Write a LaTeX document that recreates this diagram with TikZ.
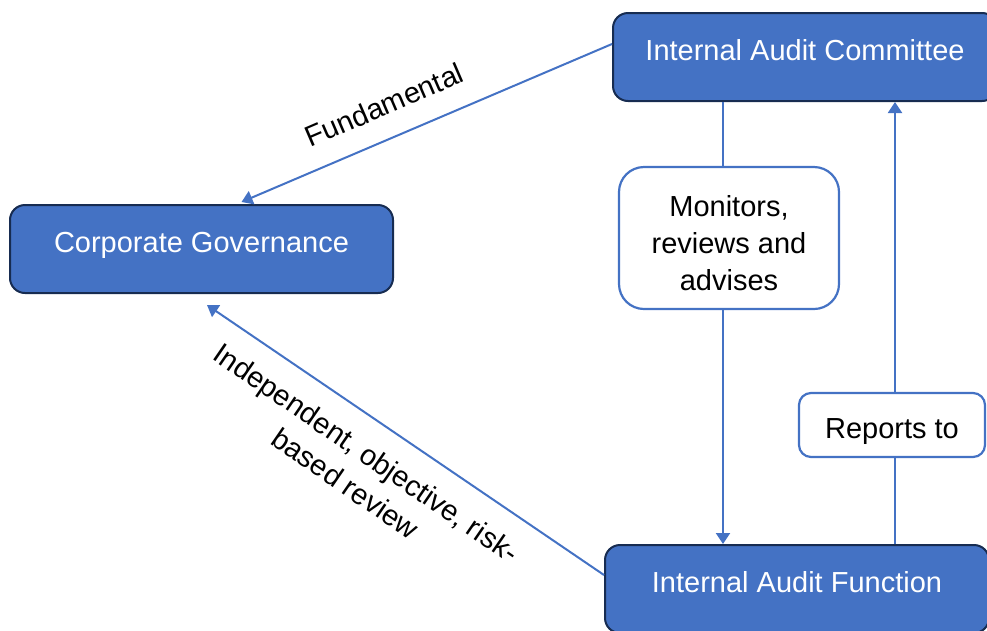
\documentclass[tikz,border=0pt]{standalone}
\usepackage{fontspec}
\setmainfont{Liberation Sans}
\usetikzlibrary{arrows.meta}
\definecolor{accent}{HTML}{4472C4}
\definecolor{navy}{HTML}{172C51}
\begin{document}
\begin{tikzpicture}[x=1pt,y=-1pt,
  txt/.style={font=\fontsize{29}{37}\selectfont},
  bluebox/.style={txt, draw=navy, line width=2pt, fill=accent, text=white,
    rounded corners=15pt, inner sep=0pt, minimum height=88pt,
    text height=16pt, text depth=10pt},
  whitebox/.style={draw=accent, line width=2.2pt, fill=white,
    inner sep=0pt},
  conn/.style={draw=accent, line width=2pt},
  arr/.style={conn, -{Triangle[length=11pt,width=14pt]}}]
\useasboundingbox (0,0) rectangle (987,630);
\clip (0,0) rectangle (987,630);

% main boxes
\node[bluebox, minimum width=384pt] (iac) at (805,57) {Internal Audit Committee};
\node[bluebox, minimum width=383pt] (cg) at (201.5,249) {Corporate Governance};
\node[bluebox, minimum width=384pt] (iaf) at (797,589) {Internal Audit Function};

% label boxes
\node[whitebox, rounded corners=25pt, minimum width=220pt, minimum height=142pt] (mon) at (729,238) {};
\node[txt, align=center, inner sep=0pt] (monT) at (729,243) {Monitors,\\reviews and\\advises};
\node[whitebox, txt, rounded corners=12pt, minimum width=186pt, minimum height=64pt,
  text height=26pt, text depth=0pt] (rep) at (892,425) {Reports to};

% vertical connectors
\draw[conn] ([xshift=-82pt]iac.south) -- ([xshift=-6pt]mon.north);
\draw[arr] ([xshift=-6pt]mon.south) -- ([xshift=-74pt]iaf.north);
\draw[conn] ([xshift=98pt]iaf.north) -- ([xshift=3pt]rep.south);
\draw[arr] ([xshift=3pt]rep.north) -- ([xshift=90pt]iac.south);

% diagonal connectors
\draw[arr] ([yshift=13pt]iac.west) -- ([xshift=40pt,yshift=2pt]cg.north);
\draw[arr] ([yshift=14pt]iaf.west) -- ([xshift=5.5pt,yshift=-11pt]cg.south);

% diagonal labels
\node[txt, rotate=23.3, inner sep=0pt] (lf) at (384,105) {Fundamental};
\node[txt, rotate=-34.5, align=center, inner sep=0pt] (li) at (356,468)
  {Independent, objective, risk-\\based review};
\end{tikzpicture}
\end{document}
